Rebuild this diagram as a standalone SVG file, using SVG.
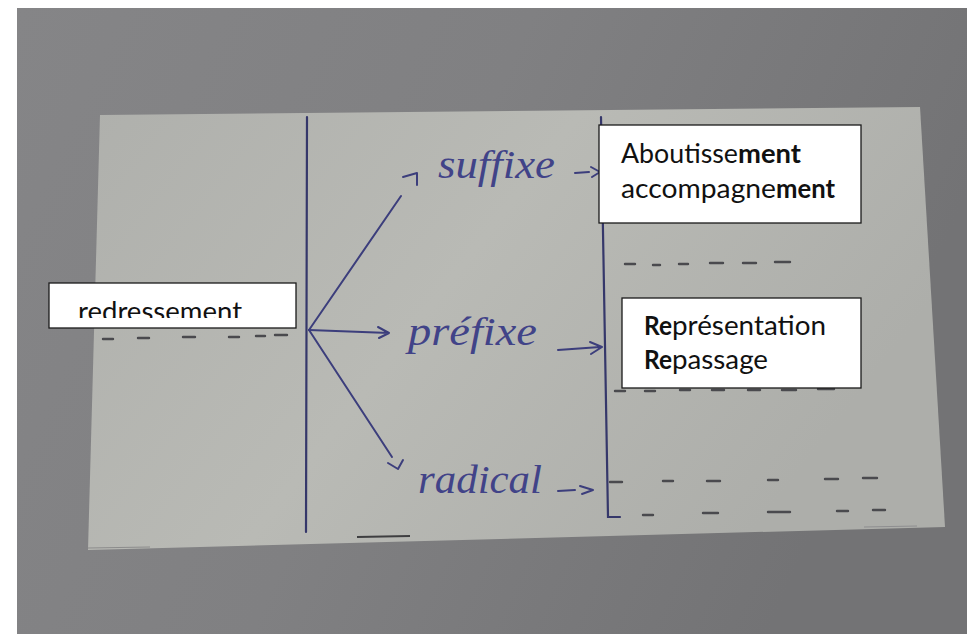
<svg xmlns="http://www.w3.org/2000/svg" width="967" height="634" viewBox="0 0 967 634">
<defs>
<linearGradient id="bg" x1="0" y1="0" x2="1" y2="0.3">
<stop offset="0" stop-color="#858587"/>
<stop offset="0.5" stop-color="#808082"/>
<stop offset="1" stop-color="#737375"/>
</linearGradient>
<linearGradient id="paper" x1="0" y1="0" x2="1" y2="0.4">
<stop offset="0" stop-color="#afb0ac"/>
<stop offset="0.5" stop-color="#b9bab5"/>
<stop offset="1" stop-color="#adaeaa"/>
</linearGradient>
<clipPath id="clipRed"><rect x="50" y="284" width="245" height="34"/></clipPath>
<style>
.box{fill:#ffffff;stroke:#1a1a1a;stroke-width:1.3}
.t{font-family:Lato,"Open Sans","Liberation Sans",sans-serif;font-size:27px;fill:#111111}
.b{font-weight:bold}
.hw{font-family:"Liberation Serif","DejaVu Serif",serif;font-style:italic;font-size:40px;fill:#414388}
.ink{fill:none;stroke:#3c3e7c;stroke-width:2;stroke-linecap:round;stroke-linejoin:round}
.vline{fill:none;stroke:#35376a;stroke-width:2.2;stroke-linecap:round}
.dash{fill:none;stroke:#4a4a4e;stroke-width:2.4;stroke-linecap:round}
</style>
</defs>
<rect x="0" y="0" width="967" height="634" fill="#ffffff"/>
<rect x="17" y="8" width="950" height="626" fill="url(#bg)"/>
<polygon points="100,115 920,107 945,527 88,550" fill="url(#paper)"/>
<line x1="88" y1="548" x2="150" y2="547" stroke="#8c8c8c" stroke-width="1"/>
<line x1="357" y1="537" x2="410" y2="536" stroke="#3e3e40" stroke-width="2"/>
<line x1="864" y1="527" x2="917" y2="526" stroke="#8e8e90" stroke-width="1"/>

<!-- vertical lines -->
<line class="vline" x1="307" y1="117" x2="306" y2="532"/>
<path class="vline" d="M601,117 L608,517 L620,517"/>

<!-- dashes -->
<g id="dashes">
<path class="dash" d="M103,339 h10 M138,338 h11 M183,337 h12 M229,337 h10 M256,336 h9 M275,335 h12"/>
<path class="dash" d="M625,264 h10 M653,265 h7 M679,264 h9 M710,263 h13 M743,263 h13 M775,262 h15"/>
<path class="dash" d="M615,391 h10 M645,391 h10 M680,390 h10 M712,390 h12 M748,390 h12 M782,390 h14 M818,389 h16"/>
<path class="dash" d="M610,482 h12 M663,481 h10 M707,481 h13 M768,480 h10 M825,479 h13 M863,478 h14"/>
<path class="dash" d="M643,515 h10 M703,513 h15 M768,512 h22 M837,511 h11 M873,510 h12"/>
</g>

<!-- connectors -->
<g id="connectors">
<path class="ink" d="M309,330 L401,196"/>
<path class="ink" d="M309,330 L389,333 M378,327 L389,333 L379,338"/>
<path class="ink" d="M309,330 L392,457"/>
<path class="ink" d="M403,177 L417,173 L417,185"/>
<path class="ink" d="M388,463 L398,469 L403,460"/>
<path class="ink" d="M575,173 L589,172 M591,167 L600,172 L592,177"/>
<path class="ink" d="M558,350 L600,347 M590,342 L602,347 L591,354"/>
<path class="ink" d="M558,491 L575,490 M580,486 L593,490 L582,494"/>
</g>

<!-- handwritten labels -->
<g id="suffixe"><text class="hw" x="438" y="178" textLength="117" lengthAdjust="spacingAndGlyphs">suffixe</text></g>
<g id="prefixe"><text class="hw" x="408" y="345" textLength="129" lengthAdjust="spacingAndGlyphs">préfixe</text></g>
<g id="radical"><text class="hw" x="418" y="493" textLength="124" lengthAdjust="spacingAndGlyphs">radical</text></g>

<!-- boxes -->
<g id="redressement">
<rect class="box" x="49" y="283" width="247" height="45"/>
<text class="t" x="78" y="321" font-size="29" textLength="164" lengthAdjust="spacingAndGlyphs" clip-path="url(#clipRed)">redressement</text>
</g>
<g id="suffixe-examples">
<rect class="box" x="599" y="125" width="262" height="98"/>
<text class="t" x="621" y="163" textLength="117" lengthAdjust="spacingAndGlyphs">Aboutisse</text>
<text class="t b" x="738" y="163" textLength="63" lengthAdjust="spacingAndGlyphs">ment</text>
<text class="t" x="621" y="198" textLength="155" lengthAdjust="spacingAndGlyphs">accompagne</text>
<text class="t b" x="776" y="198" textLength="59" lengthAdjust="spacingAndGlyphs">ment</text>
</g>
<g id="prefixe-examples">
<rect class="box" x="622" y="298" width="239" height="90"/>
<text class="t b" x="644" y="335" textLength="28" lengthAdjust="spacingAndGlyphs">Re</text>
<text class="t" x="672" y="335" textLength="154" lengthAdjust="spacingAndGlyphs">présentation</text>
<text class="t b" x="644" y="369" textLength="28" lengthAdjust="spacingAndGlyphs">Re</text>
<text class="t" x="672" y="369" textLength="96" lengthAdjust="spacingAndGlyphs">passage</text>
</g>
</svg>
